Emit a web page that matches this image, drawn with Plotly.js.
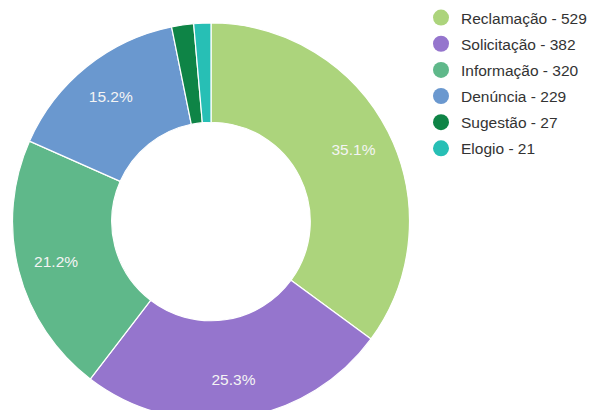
<!DOCTYPE html>
<html>
<head>
<meta charset="utf-8">
<script src="https://cdn.plot.ly/plotly-3.0.1.min.js"></script>
<style>
html,body{margin:0;padding:0;overflow:hidden;background:#fff;}
#chart{width:597px;height:420px;}
</style>
</head>
<body>
<div id="chart"></div>
<script>
var categories = ['Reclamação', 'Solicitação', 'Informação', 'Denúncia', 'Sugestão', 'Elogio'];
var values = [529, 382, 320, 229, 27, 21];
var colors = ['#acd47c', '#9575cd', '#5fb88a', '#6a98cf', '#0e8446', '#27bfb5'];
var showPct = [true, true, true, true, false, false];

var W = 597, H = 420;
var cx = 211, cy = 222, R = 199;
var dom = {x: [(cx - R) / W, (cx + R) / W], y: [(H - cy - R) / H, (H - cy + R) / H]};

var pie = {
  type: 'pie',
  labels: categories,
  values: values,
  sort: false,
  direction: 'clockwise',
  rotation: 0,
  hole: 0.5,
  marker: {colors: colors, line: {color: '#ffffff', width: 1.2}},
  textinfo: 'none',
  hoverinfo: 'none',
  showlegend: false,
  domain: dom
};

// transparent overlay ring, used only to place the percentage labels further out
var labelRing = {
  type: 'pie',
  labels: categories,
  values: values,
  sort: false,
  direction: 'clockwise',
  rotation: 0,
  hole: 0.61,
  marker: {colors: categories.map(function(){ return 'rgba(0,0,0,0)'; }), line: {width: 0}},
  texttemplate: showPct.map(function(s){ return s ? '%{percent:.1%}' : ''; }),
  textposition: 'inside',
  insidetextorientation: 'horizontal',
  textfont: {family: 'Liberation Sans, Arial, sans-serif', size: 15.5, color: '#f4f4f4'},
  hoverinfo: 'none',
  showlegend: false,
  domain: dom
};

var traces = [pie, labelRing];
categories.forEach(function(c, i){
  traces.push({
    type: 'scatter', mode: 'markers',
    x: [null], y: [null],
    name: c + ' - ' + values[i],
    legendgroup: 'g' + i,
    marker: {color: colors[i], size: 16, symbol: 'circle'},
    hoverinfo: 'none',
    showlegend: true
  });
});

var layout = {
  width: W, height: H,
  margin: {l: 0, r: 0, t: 0, b: 0},
  paper_bgcolor: '#ffffff',
  plot_bgcolor: '#ffffff',
  xaxis: {visible: false, domain: [0.99, 1]},
  yaxis: {visible: false, domain: [0.99, 1]},
  showlegend: true,
  legend: {
    x: 421 / W, xanchor: 'left',
    y: 1 - 1 / H, yanchor: 'top',
    traceorder: 'grouped',
    tracegroupgap: 3,
    font: {family: 'Liberation Sans, Arial, sans-serif', size: 15.5, color: '#333333'},
    bgcolor: 'rgba(0,0,0,0)'
  }
};

Plotly.newPlot('chart', traces, layout, {displayModeBar: false, staticPlot: true});
</script>
</body>
</html>
